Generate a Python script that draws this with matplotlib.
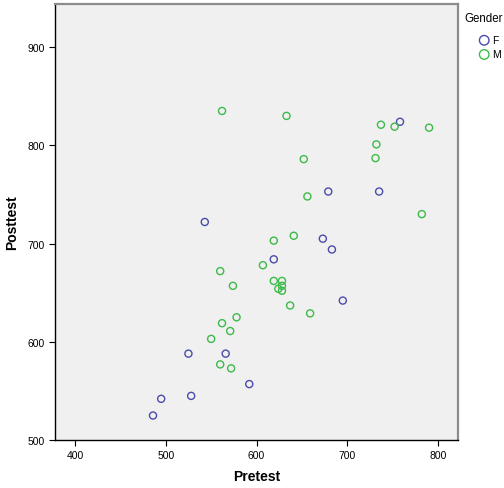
import numpy as np
import matplotlib.pyplot as plt

plt.rcParams['font.family'] = ['Liberation Sans', 'DejaVu Sans']

# Female (F) points
f_pre = [758, 679, 735, 543, 673, 683, 619, 695, 525, 566, 592, 528, 495, 486]
f_post = [824, 753, 753, 722, 705, 694, 684, 642, 588, 588, 557, 545, 542, 525]

# Male (M) points
m_pre = [562, 633, 737, 752, 790, 732, 652, 731, 656, 782, 641, 619, 607, 560,
         619, 628, 628, 624, 628, 574, 637, 659, 578, 562, 571, 550, 560, 572]
m_post = [835, 830, 821, 819, 818, 801, 786, 787, 748, 730, 708, 703, 678, 672,
          662, 662, 657, 654, 652, 657, 637, 629, 625, 619, 611, 603, 577, 573]

fig = plt.figure(figsize=(5.04, 4.89), dpi=100)
ax = fig.add_axes([0.109, 0.098, 0.800, 0.892])
ax.set_facecolor('#f0f0f0')

blue = '#4b4bab'
green = '#3dba4a'
ax.scatter(f_pre, f_post, s=26, facecolors='none', edgecolors=blue, linewidths=1.0, label='F')
ax.scatter(m_pre, m_post, s=26, facecolors='none', edgecolors=green, linewidths=1.0, label='M')

ax.set_xlim(378, 822)
ax.set_ylim(500, 944)
ax.set_xticks([400, 500, 600, 700, 800])
ax.set_yticks([500, 600, 700, 800, 900])
ax.tick_params(labelsize=7.5, length=4, width=0.8, direction='out', color='black')

for s in ['left', 'bottom']:
    ax.spines[s].set_color('black')
    ax.spines[s].set_linewidth(1.0)
for s in ['top', 'right']:
    ax.spines[s].set_color('#8c8c8c')
    ax.spines[s].set_linewidth(1.6)

ax.set_xlabel('Pretest', fontsize=10, fontweight='bold', labelpad=6)
ax.set_ylabel('Posttest', fontsize=10, fontweight='bold', labelpad=6)

# legend to the right of the frame
fig.text(0.922, 0.962, 'Gender', fontsize=8.3, ha='left', va='center')
fig.legend(loc='upper left', bbox_to_anchor=(0.938, 0.937), frameon=False,
           fontsize=7.5, handletextpad=0.15, labelspacing=0.4,
           markerscale=1.35, borderpad=0, handlelength=1.2)

fig.savefig('out.png', dpi=100)
